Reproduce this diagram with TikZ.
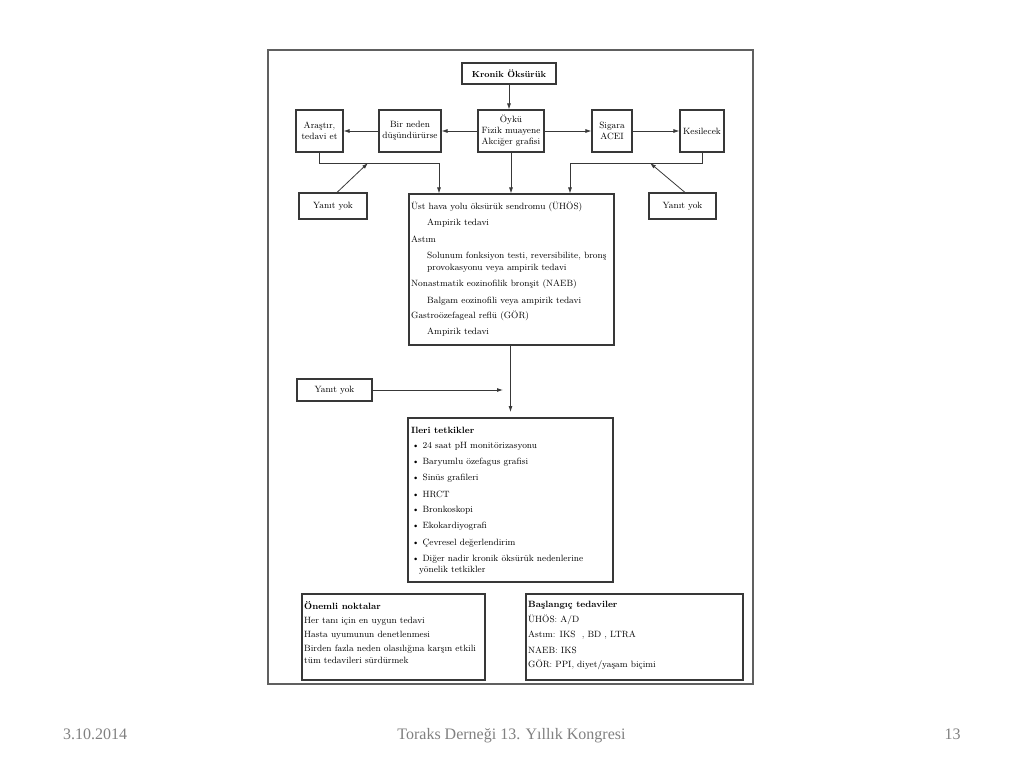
\documentclass[tikz,border=0pt]{standalone}
\usepackage{fontspec}
\newfontfamily\footfont{Liberation Serif}
\usetikzlibrary{arrows.meta}
\definecolor{ln}{gray}{0.22}
\definecolor{ft}{gray}{0.5}
\tikzset{
  bx/.style={draw=ln, line width=1.1pt, inner sep=0pt, align=center,
    font=\fontsize{9.1}{11}\selectfont},
  tx/.style={anchor=west, inner sep=0pt, font=\fontsize{9.1}{11}\selectfont},
  hd/.style={tx, font=\fontsize{9.1}{11}\selectfont\bfseries},
  con/.style={draw=ln, line width=0.8pt},
  arr/.style={con, -{Latex[length=6pt,width=4pt]}},
  foot/.style={inner sep=0pt, anchor=base, text=ft, font=\fontsize{16}{18}\footfont}
}
\begin{document}
\begin{tikzpicture}[x=1pt,y=-1pt]
\useasboundingbox (0,0) rectangle (1024,768);
% outer frame
\node[draw=ln!80, line width=1.6pt, minimum width=485pt, minimum height=634pt, inner sep=0pt] (frame) at (510.5,367) {};
% top row
\node[bx, minimum width=94pt, minimum height=21pt, font=\fontsize{8.8}{10}\selectfont\bfseries] (kronik) at (509,73.5) {Kronik Öksürük};
\node[bx, minimum width=66pt, minimum height=42pt] (oyku) at (511,131) {Öykü\\Fizik muayene\\Akciğer grafisi};
\node[bx, minimum width=62pt, minimum height=42pt] (bir) at (410,131) {Bir neden\\düşündürürse};
\node[bx, minimum width=47pt, minimum height=42pt] (aras) at (319.5,131) {Araştır,\\tedavi et};
\node[bx, minimum width=40pt, minimum height=42pt] (sig) at (612,131) {Sigara\\ACEI};
\node[bx, minimum width=44pt, minimum height=42pt] (kes) at (702,131) {Kesilecek};
\node[bx, minimum width=68pt, minimum height=26pt] (y1) at (333,206) {Yanıt yok};
\node[bx, minimum width=67pt, minimum height=26pt] (y2) at (682.5,206) {Yanıt yok};
% central box
\node[bx, minimum width=205pt, minimum height=151pt] (ust) at (511.5,269.5) {};
\node[tx] (u1) at (411,207) {Üst hava yolu öksürük sendromu (ÜHÖS)};
\node[tx] (u2) at (427,223.5) {Ampirik tedavi};
\node[tx] (u3) at (411,239.5) {Astım};
\node[tx] (u4) at (427,256) {Solunum fonksiyon testi, reversibilite, bronş};
\node[tx] (u5) at (427,268.5) {provokasyonu veya ampirik tedavi};
\node[tx] (u6) at (411,284.5) {Nonastmatik eozinofilik bronşit (NAEB)};
\node[tx] (u7) at (427,301) {Balgam eozinofili veya ampirik tedavi};
\node[tx] (u8) at (411,316) {Gastroözefageal reflü (GÖR)};
\node[tx] (u9) at (427,332) {Ampirik tedavi};
% yanit 3
\node[bx, minimum width=75pt, minimum height=22pt] (y3) at (334.5,390) {Yanıt yok};
% ileri box
\node[bx, minimum width=205pt, minimum height=164pt] (ileri) at (510.5,500) {};
\node[hd] (i0) at (411,430) {Ileri tetkikler};
\node[tx] (i1) at (412,446) {\textbullet\ 24 saat pH monitörizasyonu};
\node[tx] (i2) at (412,462) {\textbullet\ Baryumlu özefagus grafisi};
\node[tx] (i3) at (412,478.5) {\textbullet\ Sinüs grafileri};
\node[tx] (i4) at (412,494.5) {\textbullet\ HRCT};
\node[tx] (i5) at (412,510) {\textbullet\ Bronkoskopi};
\node[tx] (i6) at (412,526) {\textbullet\ Ekokardiyografi};
\node[tx] (i7) at (412,543) {\textbullet\ Çevresel değerlendirim};
\node[tx] (i8) at (412,559) {\textbullet\ Diğer nadir kronik öksürük nedenlerine};
\node[tx] (i9) at (419,570.5) {yönelik tetkikler};
% bottom boxes
\node[bx, minimum width=183pt, minimum height=86pt] (onem) at (393.5,637) {};
\node[hd] (o0) at (304,605.5) {Önemli noktalar};
\node[tx] (o1) at (304,621) {Her tanı için en uygun tedavi};
\node[tx] (o2) at (304,635.5) {Hasta uyumunun denetlenmesi};
\node[tx] (o3) at (304,649) {Birden fazla neden olasılığına karşın etkili};
\node[tx] (o4) at (304,660) {tüm tedavileri sürdürmek};
\node[bx, minimum width=217pt, minimum height=86pt] (basl) at (634.5,637) {};
\node[hd] (b0) at (528,605) {Başlangıç tedaviler};
\node[tx] (b1) at (528,620) {ÜHÖS: A/D};
\node[tx] (b2) at (528,635) {Astım: IKS\ \ , BD\ , LTRA};
\node[tx] (b3) at (528,650) {NAEB: IKS};
\node[tx] (b4) at (528,665) {GÖR: PPI, diyet/yaşam biçimi};
% junction coordinates
\coordinate (jl) at (439,163);
\coordinate (jr) at (570,163);
\coordinate (t1) at (368,163);
\coordinate (t2) at (650,163);
\coordinate (t3) at (503,388);
\coordinate (t4) at (510.5,412);
% connectors
\draw[arr] (kronik.south) -- (kronik.south |- oyku.north);
\draw[arr] (oyku.west) -- (bir.east);
\draw[arr] (bir.west) -- (aras.east);
\draw[arr] (oyku.east) -- (sig.west);
\draw[arr] (sig.east) -- (kes.west);
\draw[con] (aras.south) |- (jl);
\draw[arr] (jl) -- (jl |- ust.north);
\draw[arr] (oyku.south) -- (oyku.south |- ust.north);
\draw[con] (kes.south) |- (jr);
\draw[arr] (jr) -- (jr |- ust.north);
\draw[arr] ([xshift=4pt]y1.north) -- (t1);
\draw[arr] ([xshift=2.5pt]y2.north) -- (t2);
\draw[arr] (ust.south -| t4) -- (t4);
\draw[arr] (y3.east) -- (y3.east -| t3);
% footer
\node[foot] (date) at (95,739) {3.10.2014};
\node[foot] (title) at (511.5,739) {Toraks Derneği 13. Yıllık Kongresi};
\node[foot] (page) at (952.5,739) {13};
\end{tikzpicture}
\end{document}
